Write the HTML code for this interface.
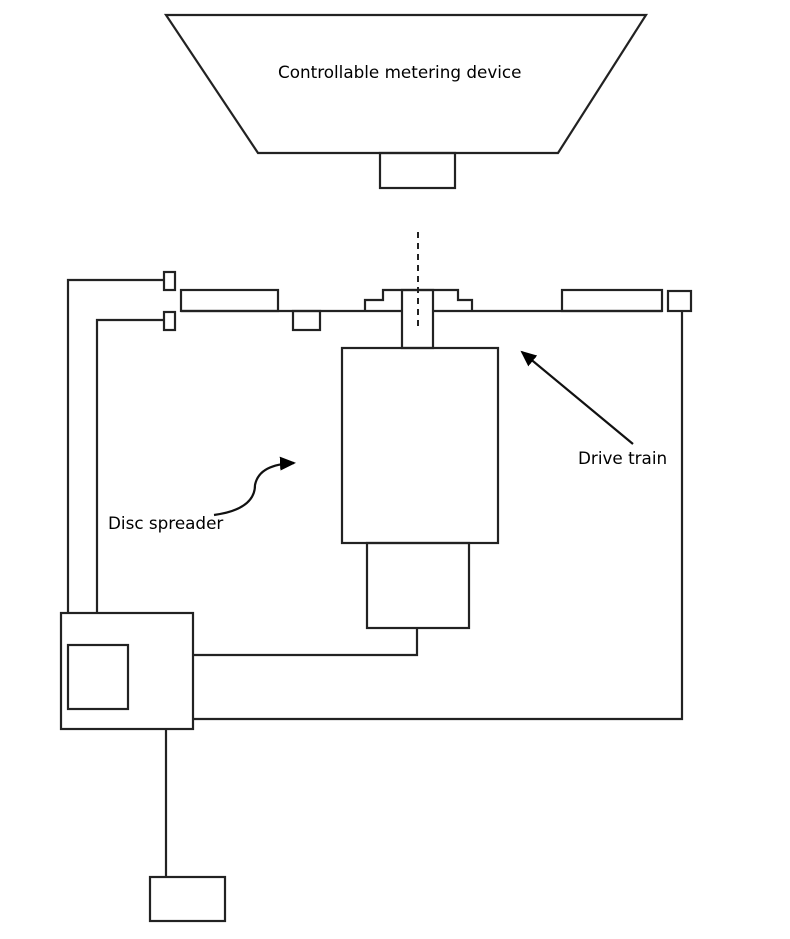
<!DOCTYPE html>
<html><head><meta charset="utf-8"><style>
html,body{margin:0;padding:0;background:#fff;}
svg{display:block;}
text{font-family:"DejaVu Sans","Liberation Sans",sans-serif;font-size:16.8px;fill:#000;}
</style></head><body>
<svg width="790" height="939" viewBox="0 0 790 939" xmlns="http://www.w3.org/2000/svg">
<defs>
<marker id="ah" markerWidth="16" markerHeight="14" refX="14" refY="7" orient="auto" markerUnits="userSpaceOnUse" viewBox="0 0 16 14">
<path d="M0,0 L16,7 L0,14 z" fill="#000"/>
</marker>
</defs>
<g fill="none" stroke="#222" stroke-width="2.2">
<polygon points="166,15 646,15 558,153 258,153"/>
<rect x="380" y="153" width="75" height="35"/>
<line x1="181" y1="311" x2="403" y2="311"/>
<line x1="434" y1="311" x2="662" y2="311"/>
<rect x="181" y="290" width="97" height="21"/>
<rect x="293" y="311" width="27" height="19"/>
<rect x="562" y="290" width="100" height="21"/>
<rect x="668" y="291" width="23" height="20"/>
<polyline points="365,311 365,300 383,300 383,290 458,290 458,300 472,300 472,311"/>
<rect x="402" y="290" width="31" height="58"/>
<rect x="342" y="348" width="156" height="195"/>
<rect x="367" y="543" width="102" height="85"/>
<rect x="164" y="272" width="11" height="18"/>
<rect x="164" y="312" width="11" height="18"/>
<polyline points="164,280 68,280 68,613"/>
<polyline points="164,320 97,320 97,613"/>
<rect x="61" y="613" width="132" height="116"/>
<rect x="68" y="645" width="60" height="64"/>
<polyline points="193,655 417,655 417,628"/>
<polyline points="193,719 682,719 682,311"/>
<line x1="166" y1="729" x2="166" y2="877"/>
<rect x="150" y="877" width="75" height="44"/>
</g>
<line x1="418" y1="232" x2="418" y2="330" stroke="#222" stroke-width="2" stroke-dasharray="6,5"/>
<line x1="633" y1="444" x2="522" y2="352" stroke="#111" stroke-width="2.2" marker-end="url(#ah)"/>
<path d="M214,515 C250,510 255,495 255,485 C258,470 272,464 294,463" fill="none" stroke="#111" stroke-width="2.2" marker-end="url(#ah)"/>
<text x="278" y="78">Controllable metering device</text>
<text x="578" y="464">Drive train</text>
<text x="108" y="529">Disc spreader</text>
</svg>
</body></html>
